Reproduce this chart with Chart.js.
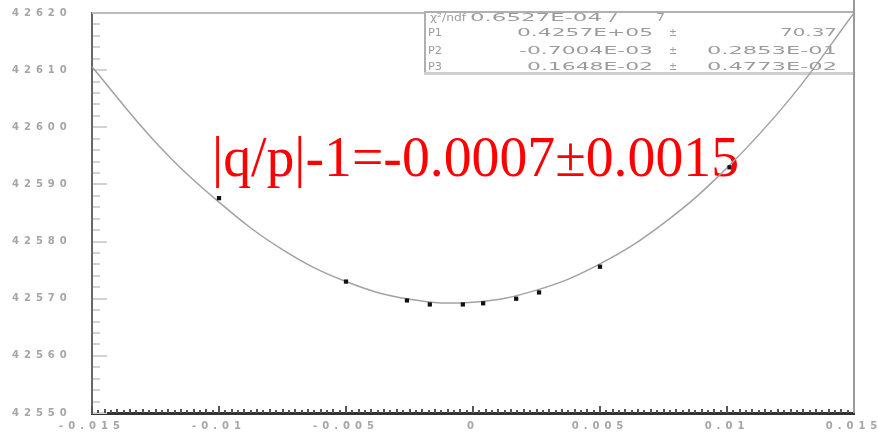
<!DOCTYPE html>
<html>
<head>
<meta charset="utf-8">
<script src="https://cdn.jsdelivr.net/npm/chart.js@4.4.1/dist/chart.umd.min.js"></script>
<style>
  html, body { margin: 0; padding: 0; background: #fff; }
  canvas { display: block; }
</style>
</head>
<body>
<canvas id="fit-chart" width="878" height="433"></canvas>
<script>
// measured points
const dataX = [-0.0100, -0.0050, -0.0026, -0.0017, -0.0004, 0.0004, 0.0017, 0.0026, 0.0050, 0.0101];
const dataY = [42587.6, 42573.0, 42569.7, 42569.0, 42569.0, 42569.2, 42570.0, 42571.1, 42575.6, 42593.0];

// fitted curve
const fitX = [-0.015, -0.0125, -0.01, -0.0075, -0.005, -0.0025, 0, 0.0025, 0.005, 0.0075, 0.01, 0.0125, 0.015];
const fitY = [42610.6, 42597.4, 42586.9, 42578.6, 42573.0, 42569.9, 42569.4, 42571.5, 42576.1, 42583.2, 42592.9, 42605.1, 42620.0];

const xTicks = [-0.015, -0.01, -0.005, 0, 0.005, 0.01, 0.015];
const yTicks = [42550, 42560, 42570, 42580, 42590, 42600, 42610, 42620];

const statRows = [
  ['χ²/ndf', '0.6527E-04 /', '', '7'],
  ['P1', '0.4257E+05', '±', '70.37'],
  ['P2', '-0.7004E-03', '±', '0.2853E-01'],
  ['P3', '0.1648E-02', '±', '0.4773E-02'],
];
const resultText = '|q/p|-1=-0.0007±0.0015';

// draw text squeezed / stretched to a given width
function fitText(ctx, text, left, right, y) {
  const w = ctx.measureText(text).width;
  ctx.save();
  ctx.translate(left, y);
  ctx.scale((right - left) / w, 1);
  ctx.fillText(text, 0, 0);
  ctx.restore();
}

const spacingPlugin = {
  id: 'spacing',
  beforeDraw(chart) { chart.ctx.letterSpacing = '5px'; },
  beforeDatasetsDraw(chart) { chart.ctx.letterSpacing = '0px'; },
};

const decorPlugin = {
  id: 'decor',
  beforeDatasetsDraw(chart) {
    const { ctx, chartArea: a, scales } = chart;
    ctx.save();

    // inner ticks on y
    ctx.fillStyle = '#d2d2d2';
    for (let v = 42550; v <= 42620.01; v += 2) {
      const y = Math.round(scales.y.getPixelForValue(v));
      const major = Math.abs(v % 10) < 0.01;
      ctx.fillRect(a.left + 1, y - 1, major ? 14 : 7, 2);
    }
    // inner ticks on x
    ctx.fillStyle = '#555';
    for (let i = 0; i <= 120; i++) {
      const v = -0.015 + i * 0.00025;
      const x = Math.round(scales.x.getPixelForValue(v));
      const len = i % 20 === 0 ? 7 : (i % 2 === 0 ? 4 : 3);
      ctx.fillRect(x - 1, a.bottom - len, 2, len);
    }

    // frame top
    ctx.fillStyle = '#bdbdbd';
    ctx.fillRect(a.left, a.top - 1, a.right - a.left, 2);

    // stats box
    ctx.fillStyle = '#fff';
    ctx.fillRect(425, 11, a.right - 425, 62);
    ctx.fillStyle = '#b0b0b0';
    ctx.fillRect(425, 11, a.right - 425, 2);
    ctx.fillRect(424, 11, 2, 63);
    ctx.fillStyle = '#cfcfcf';
    ctx.fillRect(424, 72, a.right - 424, 3);
    // frame right
    ctx.fillStyle = '#9a9a9a';
    ctx.fillRect(a.right - 1, 0, 2, a.bottom);

    ctx.fillStyle = '#9c9c9c';
    ctx.font = '11px "DejaVu Sans"';
    ctx.textBaseline = 'middle';
    const rowsY = [18, 33, 51, 67];
    statRows.forEach((r, i) => {
      const y = rowsY[i];
      if (i === 0) {
        fitText(ctx, r[0], 430, 466, y);
        fitText(ctx, r[1], 470, 617, y);
        fitText(ctx, r[3], 656, 665, y);
        return;
      }
      fitText(ctx, r[0], 428, 442, y);
      const valLeft = i === 1 ? 517 : (i === 2 ? 519 : 527);
      fitText(ctx, r[1], valLeft, 653, y);
      fitText(ctx, r[2], 669, 677, y);
      fitText(ctx, r[3], i === 1 ? 780 : 707, 837, y);
    });

    // result text
    ctx.fillStyle = '#ff0000';
    ctx.font = '57px "Liberation Serif"';
    ctx.textBaseline = 'alphabetic';
    fitText(ctx, resultText, 212, 739, 176);

    ctx.restore();
  },
};

const pointData = dataX.map((x, i) => ({ x, y: dataY[i] }));
const curveData = fitX.map((x, i) => ({ x, y: fitY[i] }));

new Chart(document.getElementById('fit-chart'), {
  type: 'scatter',
  data: {
    datasets: [
      {
        data: pointData,
        pointStyle: 'rect',
        pointRadius: 3,
        borderWidth: 0,
        backgroundColor: '#111',
      },
      {
        type: 'line',
        data: curveData,
        borderColor: '#a2a2a2',
        borderWidth: 1.5,
        tension: 0.4,
        pointRadius: 0,
        fill: false,
      },
    ],
  },
  options: {
    responsive: false,
    animation: false,
    devicePixelRatio: 1,
    layout: { padding: { left: 12, top: 13, right: 24, bottom: 0 } },
    plugins: { legend: { display: false }, tooltip: { enabled: false } },
    scales: {
      x: {
        type: 'linear',
        min: -0.015,
        max: 0.015,
        afterFit: s => { s.height = 20; },
        afterBuildTicks: s => { s.ticks = xTicks.map(v => ({ value: v })); },
        grid: { display: false },
        border: { display: true, color: '#333', width: 3 },
        ticks: {
          color: '#a6a6a6',
          font: { family: 'DejaVu Sans', size: 10, weight: 'bold' },
          padding: -1,
          maxRotation: 0,
          autoSkip: false,
          callback: v => String(+v.toFixed(3)),
        },
      },
      y: {
        min: 42550,
        max: 42620,
        afterFit: s => { s.width = 80; },
        afterBuildTicks: s => { s.ticks = yTicks.map(v => ({ value: v })); },
        grid: { display: false },
        border: { display: true, color: '#666', width: 2 },
        ticks: {
          color: '#a6a6a6',
          font: { family: 'DejaVu Sans', size: 10, weight: 'bold' },
          padding: 0,
          crossAlign: 'far',
          autoSkip: false,
          callback: v => String(v),
        },
      },
    },
  },
  plugins: [spacingPlugin, decorPlugin],
});
</script>
</body>
</html>
